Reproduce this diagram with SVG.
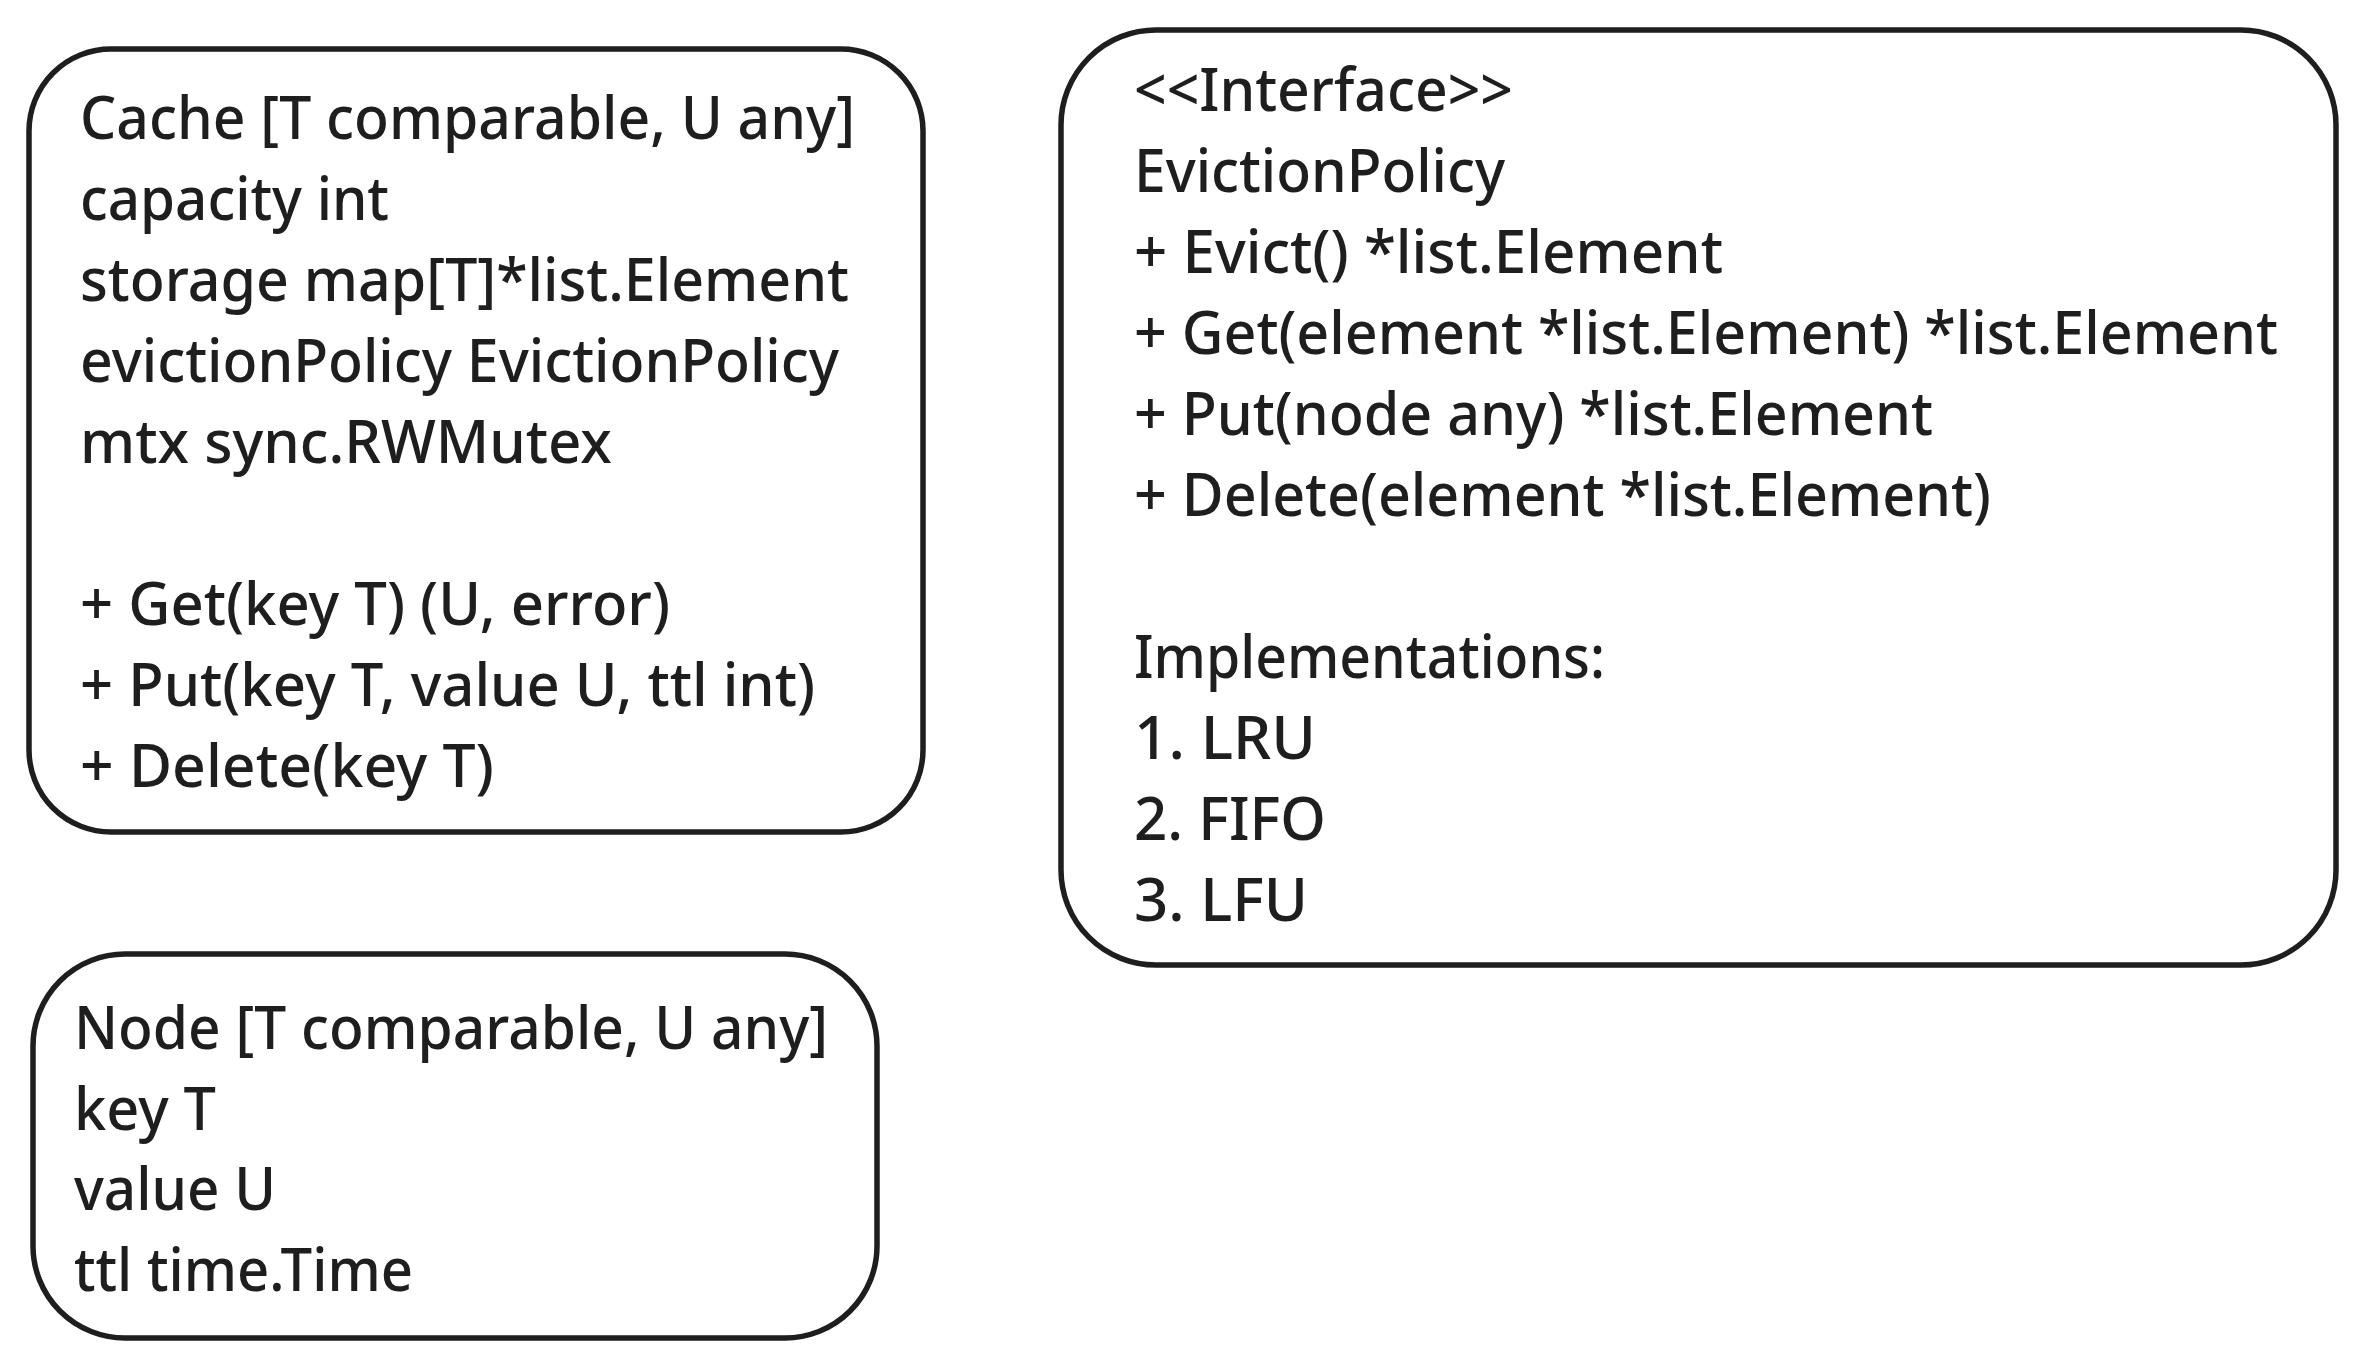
<svg xmlns="http://www.w3.org/2000/svg" width="2366" height="1368" viewBox="0 0 2366 1368">
<style>
.box{fill:#ffffff;stroke:#1e1e1e;stroke-width:5.5;stroke-linejoin:round}
.t{font-family:"Noto Sans","Open Sans","Liberation Sans",sans-serif;font-size:60px;font-weight:500;fill:#1e1e1e}
</style>
<rect width="2366" height="1368" fill="#ffffff"/>
<g id="connectors"></g>
<g id="cache">
<rect class="box" x="29" y="49" width="894" height="783" rx="82" ry="82"/>
<text class="t" x="80" y="139" textLength="775" lengthAdjust="spacingAndGlyphs">Cache [T comparable, U any]</text>
<text class="t" x="80" y="220" textLength="309" lengthAdjust="spacingAndGlyphs">capacity int</text>
<text class="t" x="80" y="301" textLength="769" lengthAdjust="spacingAndGlyphs">storage map[T]*list.Element</text>
<text class="t" x="80" y="382" textLength="759" lengthAdjust="spacingAndGlyphs">evictionPolicy EvictionPolicy</text>
<text class="t" x="80" y="463" textLength="532" lengthAdjust="spacingAndGlyphs">mtx sync.RWMutex</text>
<text class="t" x="80" y="625" textLength="590" lengthAdjust="spacingAndGlyphs">+ Get(key T) (U, error)</text>
<text class="t" x="80" y="706" textLength="735" lengthAdjust="spacingAndGlyphs">+ Put(key T, value U, ttl int)</text>
<text class="t" x="80" y="787" textLength="414" lengthAdjust="spacingAndGlyphs">+ Delete(key T)</text>
</g>
<g id="eviction-policy">
<rect class="box" x="1061" y="30" width="1275" height="935" rx="95" ry="95"/>
<text class="t" x="1134" y="111" textLength="379" lengthAdjust="spacingAndGlyphs">&lt;&lt;Interface&gt;&gt;</text>
<text class="t" x="1134" y="192" textLength="371" lengthAdjust="spacingAndGlyphs">EvictionPolicy</text>
<text class="t" x="1134" y="273" textLength="589" lengthAdjust="spacingAndGlyphs">+ Evict() *list.Element</text>
<text class="t" x="1134" y="354" textLength="1144" lengthAdjust="spacingAndGlyphs">+ Get(element *list.Element) *list.Element</text>
<text class="t" x="1134" y="435" textLength="799" lengthAdjust="spacingAndGlyphs">+ Put(node any) *list.Element</text>
<text class="t" x="1134" y="516" textLength="857" lengthAdjust="spacingAndGlyphs">+ Delete(element *list.Element)</text>
<text class="t" x="1134" y="678" textLength="471" lengthAdjust="spacingAndGlyphs">Implementations:</text>
<text class="t" x="1134" y="759" textLength="182" lengthAdjust="spacingAndGlyphs">1. LRU</text>
<text class="t" x="1134" y="840" textLength="192" lengthAdjust="spacingAndGlyphs">2. FIFO</text>
<text class="t" x="1134" y="921" textLength="174" lengthAdjust="spacingAndGlyphs">3. LFU</text>
</g>
<g id="node">
<rect class="box" x="33" y="954" width="844" height="384" rx="92" ry="92"/>
<text class="t" x="74" y="1049" textLength="754" lengthAdjust="spacingAndGlyphs">Node [T comparable, U any]</text>
<text class="t" x="74" y="1130" textLength="142" lengthAdjust="spacingAndGlyphs">key T</text>
<text class="t" x="74" y="1210" textLength="202" lengthAdjust="spacingAndGlyphs">value U</text>
<text class="t" x="74" y="1291" textLength="339" lengthAdjust="spacingAndGlyphs">ttl time.Time</text>
</g>
</svg>
